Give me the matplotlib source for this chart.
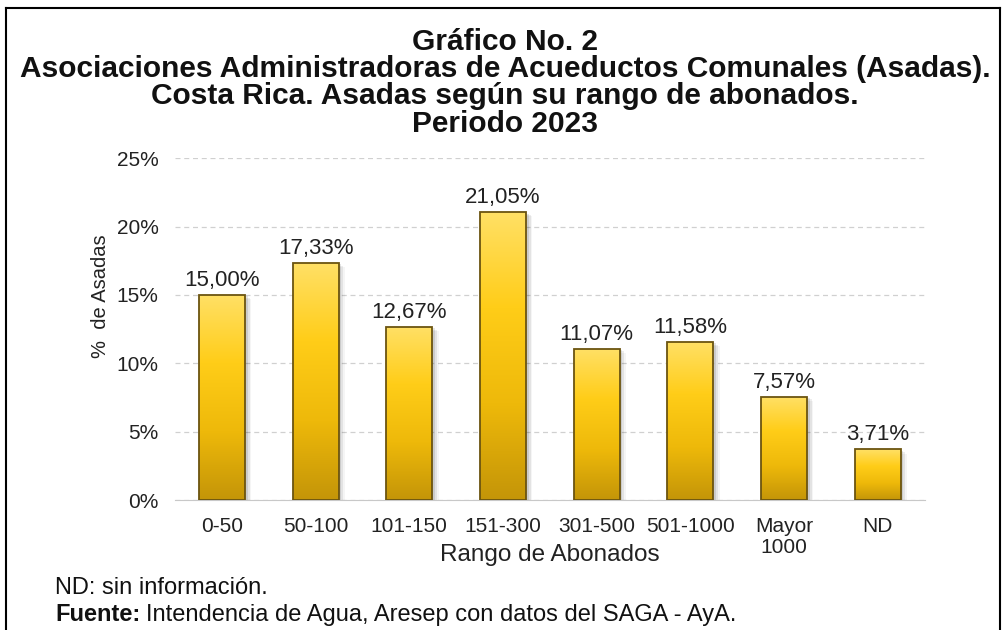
import numpy as np
import matplotlib
matplotlib.use("Agg")
import matplotlib.pyplot as plt
from matplotlib.colors import LinearSegmentedColormap
from matplotlib.patches import Rectangle
from matplotlib.text import Annotation

categories = ["0-50", "50-100", "101-150", "151-300", "301-500",
              "501-1000", "Mayor\n1000", "ND"]
values = [15.00, 17.33, 12.67, 21.05, 11.07, 11.58, 7.57, 3.71]
yticks = [0, 5, 10, 15, 20, 25]

title = ("Gráfico No. 2\n"
         "Asociaciones Administradoras de Acueductos Comunales (Asadas).\n"
         "Costa Rica. Asadas según su rango de abonados.\n"
         "Periodo 2023")

plt.rcParams["font.family"] = ["Liberation Sans", "DejaVu Sans"]

fig = plt.figure(figsize=(10.06, 6.3), dpi=100)
ax = fig.add_axes([0.174, 0.206, 0.745, 0.543])

gold = LinearSegmentedColormap.from_list(
    "gold", ["#c49508", "#eeb90a", "#ffcd18", "#ffe066"])
grad = np.linspace(0, 1, 256).reshape(-1, 1)

w = 0.49
x = np.arange(len(categories))
bars = ax.bar(x, values, width=w, color="none", edgecolor="#6b5410",
              linewidth=1.3, zorder=4)
for b, v in zip(bars, values):
    x0 = b.get_x()
    # soft shadow
    for k, a in enumerate([0.10, 0.07, 0.04]):
        off = 0.03 + 0.02 * k
        ax.add_patch(Rectangle((x0 + off, -0.15), w, v + 0.05 - 0.1 * k,
                               facecolor="black", edgecolor="none",
                               alpha=a, zorder=2))
    im = ax.imshow(grad, extent=(x0, x0 + w, 0, v), origin="lower",
                   cmap=gold, aspect="auto", zorder=3)
    im.set_clip_path(b)
    ax.text(b.get_x() + w / 2, v + 0.3, f"{v:.2f}%".replace(".", ","),
            ha="center", va="bottom", fontsize=16, color="#222222",
            zorder=5)

ax.set_xlim(-0.5, len(categories) - 0.5)
ax.set_ylim(0, 25)
ax.set_yticks(yticks)
ax.set_yticklabels([f"{t}%" for t in yticks])
ax.set_xticks(x)
ax.set_xticklabels(categories, linespacing=1.15)
ax.tick_params(axis="both", length=0, labelsize=15, colors="#222222")
ax.tick_params(axis="y", pad=12)
ax.tick_params(axis="x", pad=12)
ax.grid(axis="y", linestyle=(0, (4, 3)), color="#d0d0d0", linewidth=0.9,
        zorder=0)
for s in ["top", "right", "left"]:
    ax.spines[s].set_visible(False)
ax.spines["bottom"].set_color("#c8c8c8")
ax.set_ylabel("%  de Asadas", fontsize=14.5, color="#222222")
ax.yaxis.set_label_coords(-0.087, 0.595)
ax.set_xlabel("Rango de Abonados", fontsize=17.5, color="#222222")
ax.xaxis.set_label_coords(0.5, -0.127)

fig.text(0.502, 0.956, title, ha="center", va="top", fontsize=21.5,
         fontweight="bold", linespacing=0.97, color="#111111")

fig.text(0.055, 0.066, "ND: sin información.", ha="left", va="center",
         fontsize=17, color="#111111")
t1 = fig.text(0.055, 0.024, "Fuente:", ha="left", va="center",
              fontsize=17, fontweight="bold", color="#111111")
fig.add_artist(Annotation(
    "Intendencia de Agua, Aresep con datos del SAGA - AyA.",
    xy=(1, 0.5), xycoords=t1, xytext=(4, 0), textcoords="offset points",
    ha="left", va="center", fontsize=17, color="#111111"))

# frame around the figure
for xs, ys in [([0.006, 0.006], [0.0, 0.987]),
               ([0.006, 0.994], [0.987, 0.987]),
               ([0.994, 0.994], [0.0, 0.987])]:
    fig.add_artist(plt.Line2D(xs, ys, transform=fig.transFigure,
                              color="black", lw=1.5))

fig.savefig("out.png", dpi=100)
